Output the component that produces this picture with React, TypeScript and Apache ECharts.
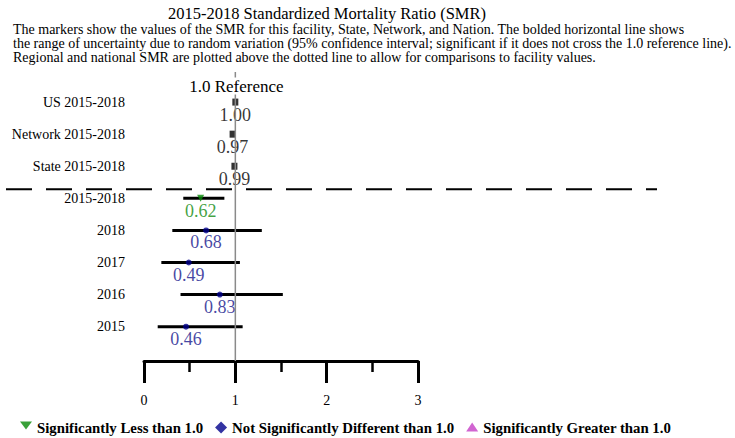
import React, { useEffect, useRef } from "react";
import * as echarts from "echarts";

const FONT = "Liberation Serif";

const TITLE = "2015-2018 Standardized Mortality Ratio (SMR)";
const SUBTITLE_LINES = [
  "The markers show the values of the SMR for this facility, State, Network, and Nation. The bolded horizontal line shows",
  "the range of uncertainty due to random variation (95% confidence interval; significant if it does not cross the 1.0 reference line).",
  "Regional and national SMR are plotted above the dotted line to allow for comparisons to facility values.",
];

// row labels, top to bottom
const ROW_LABELS = [
  "US 2015-2018",
  "Network 2015-2018",
  "State 2015-2018",
  "2015-2018",
  "2018",
  "2017",
  "2016",
  "2015",
];

// comparison rows (US, Network, State)
const REF_ROWS = [0, 1, 2];
const REF_VALUES = [1.0, 0.97, 0.99];

// facility rows
const FAC_ROWS = [3, 4, 5, 6, 7];
const FAC_VALUES = [0.62, 0.68, 0.49, 0.83, 0.46];
const FAC_LOWER = [0.43, 0.31, 0.19, 0.4, 0.15];
const FAC_UPPER = [0.88, 1.29, 1.05, 1.52, 1.08];
const FAC_STATUS = ["less", "nsd", "nsd", "nsd", "nsd"];

const X_TICKS = [0, 1, 2, 3];
const REFERENCE_VALUE = 1.0;
const SEPARATOR_ROW = 2.72;

const LEGEND_LESS = "Significantly Less than 1.0";
const LEGEND_NSD = "Not Significantly Different than 1.0";
const LEGEND_GREATER = "Significantly Greater than 1.0";

const GREEN = "#078a07";
const GREEN_TEXT = "#0f8a0f";
const NAVY = "#00008b";
const BLUE_TEXT = "#16168c";
const MAGENTA = "#c63ec6";

const DOWN_TRI_ICON = "path://M0,0L12,0L6,8Z M6,12L6.001,12L6,12Z";
const UP_TRI_ICON = "path://M6,1L12,10L0,10Z M6,12L6.001,12L6,12Z M6,0L6.001,0L6,0Z";

export default function App() {
  const ref = useRef<HTMLDivElement>(null);

  useEffect(() => {
    if (!ref.current) return;
    const chart = echarts.init(ref.current, null, { renderer: "svg" });

    const pick = (status: string) =>
      FAC_ROWS.map((r, i) => ({ i, r }))
        .filter((d) => FAC_STATUS[d.i] === status)
        .map((d) => [FAC_VALUES[d.i], d.r]);

    const valueLabel = (color: string) => ({
      show: true,
      position: "bottom",
      distance: 0,
      fontFamily: FONT,
      fontSize: 18,
      color,
      formatter: (p: any) => Number(p.value[0]).toFixed(2),
    });

    const option: any = {
      animation: false,
      textStyle: { fontFamily: FONT },
      title: [
        {
          text: TITLE,
          left: 327,
          top: 5,
          padding: 0,
          textAlign: "center",
          textStyle: { fontFamily: FONT, fontSize: 16.5, fontWeight: "normal", color: "#000" },
        },
        {
          text: SUBTITLE_LINES.join("\n"),
          left: 13,
          top: 22,
          padding: 0,
          textStyle: {
            fontFamily: FONT,
            fontSize: 14,
            fontWeight: "normal",
            color: "#000",
            lineHeight: 14,
          },
        },
      ],
      legend: {
        left: 20,
        top: 420,
        padding: 0,
        itemWidth: 12,
        itemHeight: 12,
        itemGap: 12,
        selectedMode: false,
        textStyle: { fontFamily: FONT, fontSize: 14.8, fontWeight: "bold", color: "#000" },
        data: [
          { name: LEGEND_LESS, icon: DOWN_TRI_ICON, itemStyle: { color: GREEN } },
          { name: LEGEND_NSD, icon: "diamond", itemStyle: { color: NAVY } },
          { name: LEGEND_GREATER, icon: UP_TRI_ICON, itemStyle: { color: MAGENTA } },
        ],
      },
      grid: { left: 144, right: 317, top: 70, bottom: 77, containLabel: false },
      xAxis: {
        type: "value",
        position: "bottom",
        min: X_TICKS[0],
        max: X_TICKS[X_TICKS.length - 1],
        interval: 1,
        axisLine: { show: true, onZero: false, lineStyle: { color: "#000", width: 3 } },
        axisTick: { show: true, length: 22, lineStyle: { color: "#000", width: 3 } },
        minorTick: { show: true, splitNumber: 2, length: 11, lineStyle: { color: "#000", width: 2.5 } },
        splitLine: { show: false },
        minorSplitLine: { show: false },
        axisLabel: { margin: 32, fontFamily: FONT, fontSize: 14, color: "#000" },
      },
      yAxis: {
        type: "value",
        inverse: true,
        min: -1,
        max: 8.07,
        interval: 1,
        axisLine: { show: false, onZero: false },
        axisTick: { show: false },
        splitLine: { show: false },
        axisLabel: {
          margin: 19,
          fontFamily: FONT,
          fontSize: 14,
          color: "#000",
          formatter: (v: number) => {
            const k = Math.round(v);
            return Math.abs(v - k) < 1e-6 && ROW_LABELS[k] !== undefined ? ROW_LABELS[k] : "";
          },
        },
      },
      series: [
        {
          type: "custom",
          name: "separator",
          silent: true,
          clip: false,
          data: [[SEPARATOR_ROW]],
          encode: { y: 0 },
          renderItem: (params: any, api: any) => {
            const y = api.coord([0, api.value(0)])[1];
            return {
              type: "line",
              shape: { x1: 6, y1: y, x2: 657, y2: y },
              style: { stroke: "#000", lineWidth: 2, lineDash: [26, 14] },
            };
          },
        },
        {
          type: "custom",
          name: "ci",
          silent: true,
          data: FAC_ROWS.map((r, i) => [FAC_LOWER[i], FAC_UPPER[i], r]),
          encode: { x: [0, 1], y: 2 },
          renderItem: (params: any, api: any) => {
            const p1 = api.coord([api.value(0), api.value(2)]);
            const p2 = api.coord([api.value(1), api.value(2)]);
            return {
              type: "line",
              shape: { x1: p1[0], y1: p1[1], x2: p2[0], y2: p2[1] },
              style: { stroke: "#000", lineWidth: 3 },
            };
          },
        },
        {
          type: "scatter",
          name: "comparison",
          symbol: "rect",
          symbolSize: [6, 7],
          itemStyle: { color: "#000" },
          data: REF_ROWS.map((r, i) => [REF_VALUES[i], r]),
          label: valueLabel("#000"),
          z: 3,
        },
        {
          type: "scatter",
          name: LEGEND_LESS,
          symbol: "path://M0,0L12,0L6,12Z",
          symbolSize: 7,
          itemStyle: { color: GREEN },
          data: pick("less"),
          label: valueLabel(GREEN_TEXT),
          z: 3,
        },
        {
          type: "scatter",
          name: LEGEND_NSD,
          symbol: "circle",
          symbolSize: 6,
          itemStyle: { color: NAVY },
          data: pick("nsd"),
          label: valueLabel(BLUE_TEXT),
          z: 3,
        },
        {
          type: "scatter",
          name: LEGEND_GREATER,
          symbol: "triangle",
          symbolSize: 7,
          itemStyle: { color: MAGENTA },
          data: pick("greater"),
          label: valueLabel(MAGENTA),
          z: 3,
        },
        {
          type: "custom",
          name: "reference",
          silent: true,
          clip: false,
          z: 5,
          data: [[REFERENCE_VALUE, -1, 8.07]],
          encode: { x: 0, y: [1, 2] },
          renderItem: (params: any, api: any) => {
            const top = api.coord([api.value(0), api.value(1)]);
            const bottom = api.coord([api.value(0), api.value(2)]);
            const mid = api.coord([api.value(0), -0.5]);
            return {
              type: "group",
              children: [
                {
                  type: "line",
                  shape: { x1: top[0], y1: top[1] + 2, x2: bottom[0], y2: bottom[1] },
                  style: { stroke: "#8a8a8a", lineWidth: 1.5 },
                },
                {
                  type: "text",
                  x: mid[0] + 1,
                  y: mid[1],
                  style: {
                    text: REFERENCE_VALUE.toFixed(1) + " Reference",
                    fontFamily: FONT,
                    fontSize: 17,
                    fill: "#000",
                    align: "center",
                    verticalAlign: "middle",
                    backgroundColor: "#fff",
                    padding: [0, 2],
                  },
                },
              ],
            };
          },
        },
      ],
    };

    chart.setOption(option);
    return () => chart.dispose();
  }, []);

  return (
    <div
      ref={ref}
      style={{ position: "absolute", left: 0, top: 0, width: 735, height: 438 }}
    />
  );
}
